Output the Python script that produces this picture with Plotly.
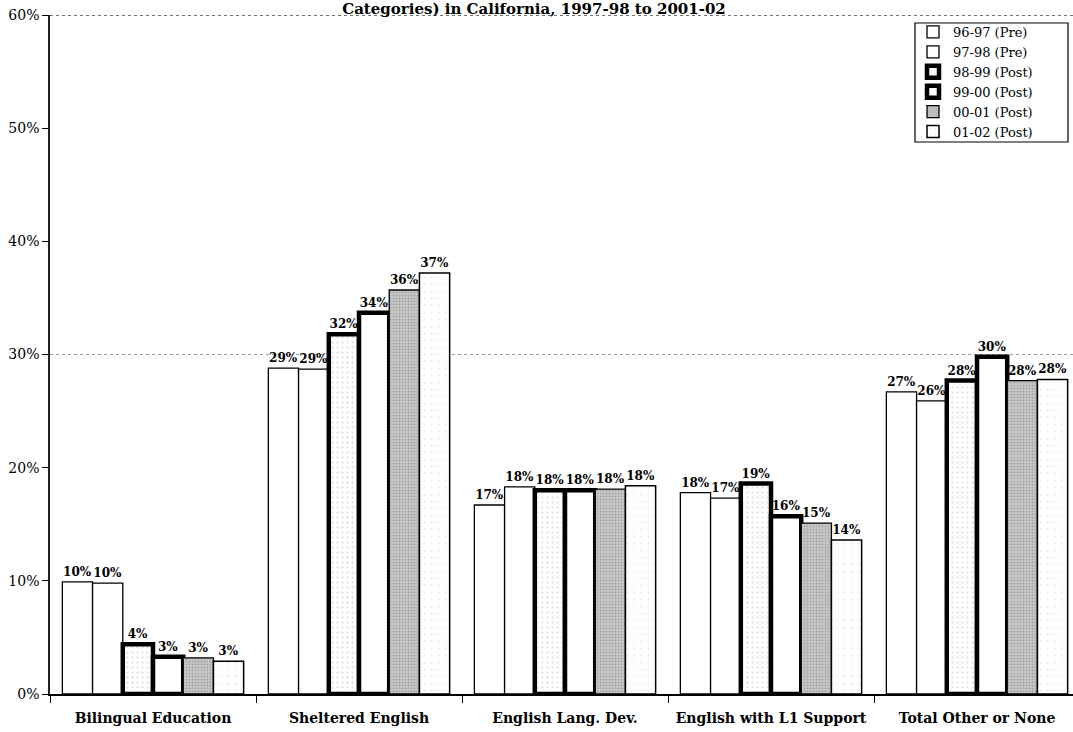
import plotly.graph_objects as go

# Program categories along the x axis
categories = [
    "Bilingual Education",
    "Sheltered English",
    "English Lang. Dev.",
    "English with L1 Support",
    "Total Other or None",
]

# School years (legend entries)
years = ["96-97 (Pre)", "97-98 (Pre)", "98-99 (Post)", "99-00 (Post)", "00-01 (Post)", "01-02 (Post)"]

# Percentage of English learners in each category, one list per school year
pct_96_97 = [9.9, 28.8, 16.7, 17.8, 26.7]
pct_97_98 = [9.8, 28.7, 18.3, 17.3, 25.9]
pct_98_99 = [4.4, 31.8, 18.0, 18.6, 27.7]
pct_99_00 = [3.3, 33.7, 18.0, 15.7, 29.8]
pct_00_01 = [3.2, 35.7, 18.1, 15.1, 27.7]
pct_01_02 = [2.9, 37.2, 18.4, 13.6, 27.8]

y_ticks = [0, 10, 20, 30, 40, 50, 60]

series = [pct_96_97, pct_97_98, pct_98_99, pct_99_00, pct_00_01, pct_01_02]

# Per-year bar styling: fill, fill pattern, outline width
styles = [
    dict(color="white", pattern=None, lw=1.3),
    dict(color="white", pattern=None, lw=1.3),
    dict(color="white", pattern=dict(shape=".", fgcolor="#b8b8b8", size=5, solidity=0.15), lw=4.5),
    dict(color="white", pattern=None, lw=4.5),
    dict(color="#c9c9c9", pattern=dict(shape=".", fgcolor="#7d7d7d", size=3, solidity=0.35), lw=1.3),
    dict(color="white", pattern=dict(shape=".", fgcolor="#d8d8d8", size=7, solidity=0.08), lw=1.5),
]

SERIF = "DejaVu Serif, serif"

fig = go.Figure()
for name, vals, st in zip(years, series, styles):
    marker = dict(color=st["color"], line=dict(color="black", width=st["lw"]))
    if st["pattern"] is not None:
        marker["pattern"] = dict(st["pattern"], bgcolor=st["color"], fillmode="overlay")
    fig.add_trace(go.Bar(
        name=name,
        x=categories,
        y=vals,
        marker=marker,
        texttemplate="%{y:.0f}%",
        textposition="outside",
        constraintext="none",
        cliponaxis=False,
        textfont=dict(family=SERIF, size=12, color="black", weight="bold"),
    ))

# plot area spans x 50..1073 px and y 15..694 px
PX_L, PX_W, PX_B, PX_H = 50, 1023, 694, 679


def px_x(px):
    return (px - PX_L) / PX_W


def px_y(py):
    return (PX_B - py) / PX_H


fig.update_layout(
    width=1073,
    height=732,
    margin=dict(l=50, r=0, t=15, b=38),
    paper_bgcolor="white",
    plot_bgcolor="white",
    barmode="group",
    bargap=0.12,
    bargroupgap=0,
    font=dict(family=SERIF, color="black"),
    title=dict(
        text="<b>Categories) in California, 1997-98 to 2001-02</b>",
        x=px_x(534), xanchor="center",
        xref="paper", yref="container", y=1 - 3 / 732, yanchor="top",
        pad=dict(t=0, b=0, l=0, r=0),
        font=dict(family=SERIF, size=15, color="black"),
    ),
    legend=dict(
        x=px_x(913), y=px_y(17), xanchor="left", yanchor="top",
        bgcolor="rgba(0,0,0,0)", borderwidth=0,
        font=dict(family=SERIF, size=13, color="black"),
        itemwidth=30, tracegroupgap=0,
    ),
    showlegend=True,
)

fig.update_xaxes(
    type="category",
    range=[-0.5, 4.466],
    showline=True, linecolor="black", linewidth=1.5,
    ticks="outside", tickson="boundaries", ticklen=7, tickcolor="black",
    ticklabelstandoff=10,
    tickfont=dict(family=SERIF, size=14, color="black", weight="bold"),
    showgrid=False,
)

fig.update_yaxes(
    range=[0, 60],
    tickvals=y_ticks,
    ticktext=[f"{t}%" for t in y_ticks],
    showline=True, linecolor="#222", linewidth=1.5,
    ticks="outside", ticklen=6, tickcolor="black",
    tickfont=dict(family=SERIF, size=14, color="black"),
    showgrid=False, zeroline=False,
)

# faint dotted gridline at 30% and the dotted frame line at the top
fig.add_shape(type="line", xref="paper", yref="y", x0=0, x1=1, y0=30, y1=30,
              line=dict(color="#9a9a9a", width=1, dash="dot"), layer="below")
fig.add_shape(type="line", xref="paper", yref="y", x0=0, x1=1, y0=60, y1=60,
              line=dict(color="#444", width=1.5, dash="dot"), layer="below")

# legend frame
fig.add_shape(type="rect", xref="paper", yref="paper",
              x0=px_x(915), x1=px_x(1068), y0=px_y(142), y1=px_y(23),
              line=dict(color="black", width=1.2), fillcolor="white", layer="below")

fig.write_html("out.html")
